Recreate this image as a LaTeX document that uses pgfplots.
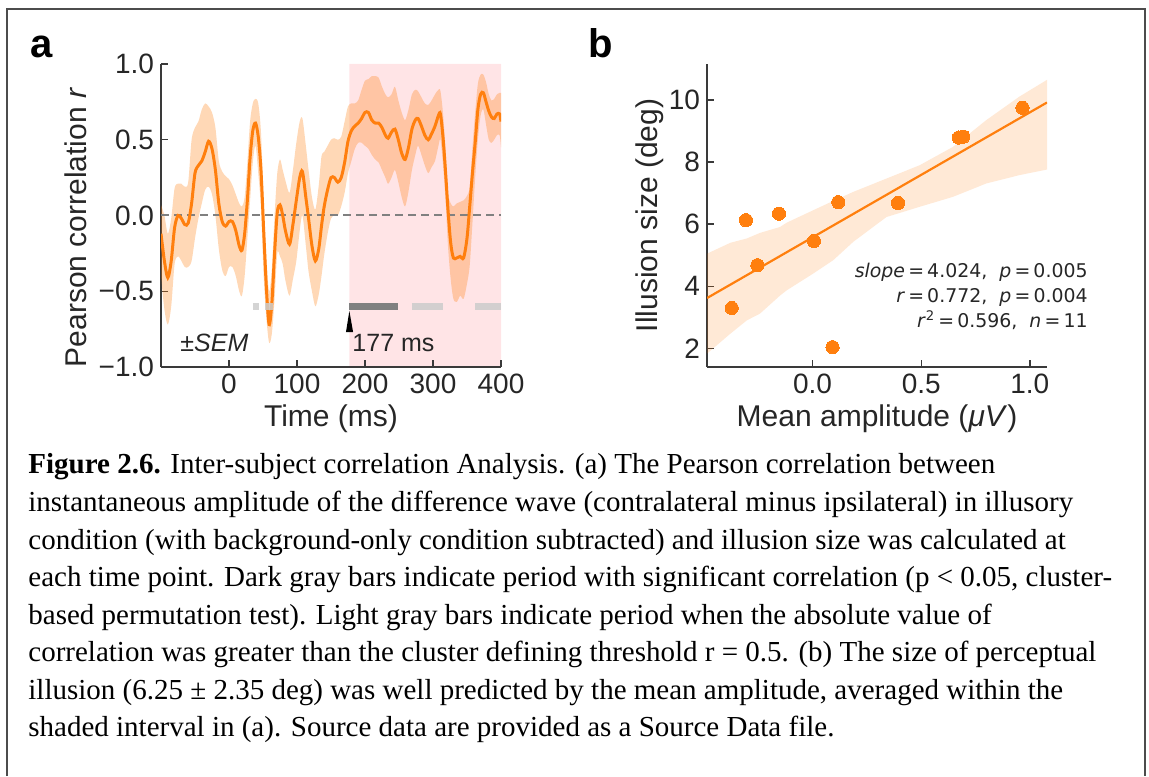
\documentclass[border=0pt]{standalone}
\usepackage{fontspec}
\setmainfont{Liberation Serif}
\newfontfamily\axf{Liberation Sans}
\newfontfamily\dvs{DejaVu Sans}
\usepackage{pgfplots}
\pgfplotsset{compat=1.18}
\usepgfplotslibrary{fillbetween}
\usepackage{pgfplotstable}

\definecolor{tabor}{HTML}{FF7F0E}
\definecolor{spine}{HTML}{3A3A3A}
\definecolor{pinkbg}{RGB}{255,228,230}

\pgfplotstableread{
t r lo hi
-100 -0.12 -0.40 0.07
-95 -0.30 -0.62 0.00
-90 -0.41 -0.72 -0.12
-85 -0.30 -0.60 -0.02
-80 -0.08 -0.32 0.18
-75 0.00 -0.27 0.21
-70 -0.02 -0.30 0.21
-65 -0.06 -0.34 0.19
-60 -0.05 -0.34 0.22
-55 0.08 -0.30 0.50
-50 0.28 -0.15 0.58
-45 0.33 -0.02 0.62
-40 0.36 0.08 0.70
-35 0.42 0.17 0.74
-30 0.49 0.19 0.72
-25 0.44 0.14 0.68
-20 0.30 0.00 0.58
-15 0.08 -0.22 0.36
-10 -0.04 -0.36 0.29
-5 -0.07 -0.40 0.26
0 -0.04 -0.34 0.24
5 -0.04 -0.34 0.20
10 -0.10 -0.40 0.14
15 -0.20 -0.50 0.08
19 -0.23 -0.53 0.06
23 -0.12 -0.40 0.12
27 0.10 -0.15 0.35
31 0.38 0.10 0.62
35 0.56 0.35 0.74
39 0.61 0.46 0.77
43 0.52 0.28 0.74
47 0.30 0.05 0.55
51 -0.10 -0.40 0.10
55 -0.48 -0.68 -0.28
59 -0.72 -0.84 -0.50
63 -0.58 -0.78 -0.35
67 -0.25 -0.55 0.00
71 0.02 -0.25 0.28
75 0.07 -0.27 0.37
79 0.00 -0.32 0.30
83 -0.10 -0.43 0.23
89 -0.19 -0.53 0.15
94 -0.06 -0.42 0.30
99 0.10 -0.30 0.48
104 0.25 -0.10 0.62
108 0.29 0.00 0.64
113 0.12 -0.20 0.46
117 -0.02 -0.37 0.30
122 -0.20 -0.50 0.12
127 -0.30 -0.60 0.04
132 -0.22 -0.52 0.20
136 -0.07 -0.40 0.39
140 0.06 -0.26 0.42
145 0.17 -0.12 0.46
150 0.25 -0.02 0.50
155 0.25 0.00 0.51
160 0.22 0.00 0.50
165 0.25 0.06 0.52
170 0.35 0.15 0.62
175 0.49 0.28 0.72
180 0.56 0.36 0.74
185 0.59 0.44 0.74
190 0.61 0.48 0.76
195 0.64 0.48 0.83
200 0.68 0.46 0.89
205 0.68 0.44 0.90
210 0.63 0.40 0.92
215 0.61 0.37 0.92
220 0.61 0.35 0.91
225 0.58 0.30 0.85
230 0.53 0.25 0.80
234 0.51 0.21 0.78
239 0.55 0.25 0.80
244 0.57 0.30 0.85
249 0.50 0.22 0.76
254 0.41 0.12 0.68
259 0.37 0.06 0.63
264 0.45 0.16 0.70
269 0.57 0.30 0.80
274 0.63 0.40 0.83
278 0.64 0.46 0.82
283 0.59 0.40 0.78
288 0.53 0.33 0.74
293 0.50 0.28 0.73
298 0.54 0.32 0.76
303 0.59 0.36 0.80
308 0.66 0.46 0.83
311 0.67 0.50 0.82
315 0.50 0.32 0.66
319 0.25 0.06 0.40
322 0.04 -0.20 0.15
326 -0.18 -0.42 0.08
330 -0.28 -0.55 0.06
335 -0.28 -0.57 0.08
340 -0.27 -0.53 0.09
345 -0.28 -0.55 0.10
350 -0.15 -0.45 0.13
354 0.06 -0.33 0.19
358 0.28 -0.05 0.45
362 0.48 0.25 0.68
366 0.70 0.50 0.87
370 0.80 0.66 0.93
374 0.81 0.70 0.93
378 0.75 0.60 0.88
382 0.69 0.50 0.80
386 0.65 0.48 0.76
390 0.64 0.50 0.77
394 0.67 0.53 0.80
398 0.67 0.53 0.81
400 0.62 0.45 0.81
}\corrtab

\pgfplotstableread{
x lo hi
-0.486 1.83 5.05
-0.379 2.47 5.40
-0.303 2.90 5.54
-0.242 3.12 5.72
-0.150 3.70 5.91
-0.119 3.87 6.05
0.003 4.41 6.45
0.095 4.84 6.75
0.187 5.43 7.04
0.340 6.23 7.47
0.493 6.56 7.90
0.646 6.88 8.49
0.799 7.31 9.35
0.952 7.58 10.11
1.079 7.76 10.65
}\citab

\pgfplotstableread{
x y
-0.372 3.30
-0.307 6.13
-0.254 4.68
-0.155 6.34
0.006 5.46
0.092 2.04
0.118 6.71
0.393 6.68
0.673 8.79
0.694 8.82
0.966 9.75
}\scatab

\pgfplotsset{panel/.style={
  scale only axis, width=170pt, height=151.5pt,
  axis lines=left, axis line style={-, spine, line width=0.75pt},
  tick align=inside, major tick length=3.5pt,
  tick style={spine, line width=0.7pt},
  tick label style={font=\axf\fontsize{14}{16}\selectfont, text=black!85},
  label style={font=\axf\fontsize{15}{17}\selectfont, text=black!85},
  /pgf/number format/assume math mode=true,
}}

\begin{document}
\begin{tikzpicture}
\draw[line width=1pt, black!70] (3.5pt,0pt) -- (3.5pt,383.5pt) -- (572.5pt,383.5pt) -- (572.5pt,0pt);

\node[anchor=base west, inner sep=0pt, font=\axf\bfseries\fontsize{20}{22}\selectfont] at (15pt,359pt) {a};
\node[anchor=base west, inner sep=0pt, font=\axf\bfseries\fontsize{20}{22}\selectfont] at (294pt,359pt) {b};

% Panel a
\begin{axis}[panel, at={(80.5pt,204.5pt)}, anchor=south west,
  set layers,
  xmin=-100, xmax=400, ymin=-1, ymax=1,
  xtick={0,100,200,300,400},
  ytick={-1,-0.5,0,0.5,1},
  yticklabels={−1.0,−0.5,0.0,0.5,1.0},
  xlabel={Time (ms)}, ylabel={Pearson correlation \textit{r}},
  xlabel style={at={(axis description cs:0.5,-0.172)}, anchor=center},
  ylabel style={at={(axis description cs:-0.25,0.46)}, anchor=center}]
\addplot[draw=none, fill=pinkbg, on layer=axis background] coordinates {(177,-1) (177,1) (400,1) (400,-1) (177,-1)};
\addplot[name path=hiA, draw=none, smooth] table[x=t, y=hi] {\corrtab};
\addplot[name path=loA, draw=none, smooth] table[x=t, y=lo] {\corrtab};
\addplot[fill=tabor, fill opacity=0.3, draw=none] fill between[of=hiA and loA];
\addplot[gray, line width=1pt, dash pattern=on 4pt off 2.5pt] coordinates {(-100,0) (400,0)};
\addplot[tabor, line width=1.5pt, smooth] table[x=t, y=r] {\corrtab};
\addplot[black!20, opacity=0.85, line width=3.4pt] coordinates {(35,-0.603) (44,-0.603)};
\addplot[black!20, opacity=0.85, line width=3.4pt] coordinates {(53,-0.603) (65,-0.603)};
\addplot[black!50, line width=3.4pt] coordinates {(177,-0.603) (248,-0.603)};
\addplot[black!20, opacity=0.85, line width=3.4pt] coordinates {(269,-0.603) (315,-0.603)};
\addplot[black!20, opacity=0.85, line width=3.4pt] coordinates {(362,-0.603) (400,-0.603)};
\addplot[fill=black, draw=none] coordinates {(172,-0.77) (182.5,-0.77) (177,-0.63) (172,-0.77)};
\node[anchor=base west, inner sep=0pt, font=\axf\fontsize{12.5}{14}\selectfont, text=black!85] at (axis cs:181,-0.90) {177 ms};
\node[anchor=base west, inner sep=0pt, font=\axf\fontsize{12.5}{14}\selectfont, text=black!85] at (axis cs:-72,-0.90) {±\textit{SEM}};
\end{axis}

% Panel b
\begin{axis}[panel, at={(353.5pt,204.5pt)}, anchor=south west,
  xmin=-0.486, xmax=1.079, ymin=1.4, ymax=11.16,
  xtick={0,0.5,1}, xticklabels={0.0,0.5,1.0},
  ytick={2,4,6,8,10},
  xlabel={Mean amplitude (\textit{μV})}, ylabel={Illusion size (deg)},
  xlabel style={at={(axis description cs:0.5,-0.172)}, anchor=center},
  ylabel style={at={(axis description cs:-0.167,0.5)}, anchor=center}]
\addplot[name path=hiB, draw=none] table[x=x, y=hi] {\citab};
\addplot[name path=loB, draw=none] table[x=x, y=lo] {\citab};
\addplot[fill=tabor, fill opacity=0.17, draw=none] fill between[of=hiB and loB];
\addplot[tabor, line width=1.1pt] coordinates {(-0.486,3.62) (1.079,9.92)};
\addplot[only marks, mark=*, mark size=3.3pt, color=tabor, mark options={fill=tabor, draw=tabor, line width=0pt}] table[x=x, y=y] {\scatab};
\end{axis}

\begin{scope}[font=\dvs\fontsize{9.45}{11}\selectfont]
\node[anchor=base east, inner sep=0pt, text=black!85] at (544pt,249pt) {\textit{slope}\,=\,4.024,\ \ \textit{p}\,=\,0.005};
\node[anchor=base east, inner sep=0pt, text=black!85] at (544pt,236.5pt) {\textit{r}\,=\,0.772,\ \ \textit{p}\,=\,0.004};
\node[anchor=base east, inner sep=0pt, text=black!85] at (544pt,224pt) {\textit{r}\textsuperscript{2}\,=\,0.596,\ \ \textit{n}\,=\,11};
\end{scope}

\begin{scope}[font=\fontsize{14.5}{17}\selectfont]
\node[anchor=base west, inner sep=0pt] at (14pt,151pt) {\textbf{Figure 2.6.} Inter-subject correlation Analysis. (a) The Pearson correlation between};
\node[anchor=base west, inner sep=0pt] at (14pt,132.25pt) {instantaneous amplitude of the difference wave (contralateral minus ipsilateral) in illusory};
\node[anchor=base west, inner sep=0pt] at (14pt,113.5pt) {condition (with background-only condition subtracted) and illusion size was calculated at};
\node[anchor=base west, inner sep=0pt] at (14pt,94.75pt) {each time point. Dark gray bars indicate period with significant correlation (p < 0.05, cluster-};
\node[anchor=base west, inner sep=0pt] at (14pt,76pt) {based permutation test). Light gray bars indicate period when the absolute value of};
\node[anchor=base west, inner sep=0pt] at (14pt,57.25pt) {correlation was greater than the cluster defining threshold r = 0.5. (b) The size of perceptual};
\node[anchor=base west, inner sep=0pt] at (14pt,38.5pt) {illusion (6.25 ± 2.35 deg) was well predicted by the mean amplitude, averaged within the};
\node[anchor=base west, inner sep=0pt] at (14pt,19.75pt) {shaded interval in (a). Source data are provided as a Source Data file.};
\end{scope}
\pgfresetboundingbox
\path[use as bounding box] (0pt,0pt) rectangle (574.5pt,388pt);
\end{tikzpicture}
\end{document}
